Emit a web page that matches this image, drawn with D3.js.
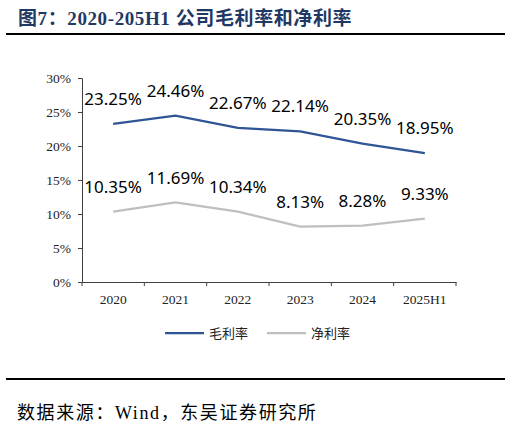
<!DOCTYPE html>
<html>
<head>
<meta charset="utf-8">
<script src="https://cdn.jsdelivr.net/npm/d3@7"></script>
<style>
  body { margin: 0; background: #fff; }
  svg { display: block; }
</style>
</head>
<body>
<svg id="chart" width="511" height="427"></svg>
<script>
// 数据
var years = ["2020", "2021", "2022", "2023", "2024", "2025H1"];
var grossMargin = [23.25, 24.46, 22.67, 22.14, 20.35, 18.95];
var netMargin = [10.35, 11.69, 10.34, 8.13, 8.28, 9.33];
var yTicks = [0, 5, 10, 15, 20, 25, 30];
var seriesNames = ["毛利率", "净利率"];
var seriesColors = ["#2f5597", "#bfbfbf"];

var svg = d3.select("#chart");

var x = d3.scaleBand()
    .domain(years)
    .range([82, 456]);

var y = d3.scaleLinear()
    .domain([0, 30])
    .range([282, 78]);

// 标题
svg.append("text")
    .attr("x", 18)
    .attr("y", 25)
    .attr("fill", "#1f3864")
    .attr("font-family", "'Liberation Serif', 'Noto Sans CJK SC', serif")
    .attr("font-weight", "bold")
    .attr("font-size", 19)
    .attr("letter-spacing", 0.6)
    .text("图7：2020-205H1 公司毛利率和净利率");

svg.append("line")
    .attr("x1", 6).attr("x2", 505)
    .attr("y1", 34).attr("y2", 34)
    .attr("stroke", "#000")
    .attr("stroke-width", 2);

// y 轴
var yAxis = svg.append("g")
    .attr("transform", "translate(82,0)")
    .call(d3.axisLeft(y).tickValues(yTicks).tickSize(4).tickPadding(7)
        .tickFormat(function(d) { return d + "%"; }));

// x 轴
var xAxis = svg.append("g")
    .attr("transform", "translate(0,282)")
    .call(d3.axisBottom(x).tickSize(0).tickPadding(12));

// 类目分隔刻度
xAxis.selectAll(".sep")
    .data(x.domain().map(function(d) { return x(d); }).concat([x.range()[1]]))
    .enter().append("line")
    .attr("class", "sep")
    .attr("x1", function(d) { return d; })
    .attr("x2", function(d) { return d; })
    .attr("y1", 0).attr("y2", 4)
    .attr("stroke", "#404040");

[yAxis, xAxis].forEach(function(g) {
    g.attr("font-size", 13.5);
    g.select(".domain").attr("stroke", "#404040");
    g.selectAll(".tick line").attr("stroke", "#404040");
    g.selectAll(".tick text")
        .attr("fill", "#222")
        .attr("font-family", "'Liberation Serif', serif")
        .attr("font-size", 13.5);
});

// 折线
var line = d3.line()
    .x(function(d, i) { return x(years[i]) + x.bandwidth() / 2; })
    .y(function(d) { return y(d); });

[grossMargin, netMargin].forEach(function(values, k) {
    svg.append("path")
        .datum(values)
        .attr("fill", "none")
        .attr("stroke", seriesColors[k])
        .attr("stroke-width", 2.25)
        .attr("d", line);

    svg.selectAll(".lbl" + k)
        .data(values)
        .enter().append("text")
        .attr("class", "lbl" + k)
        .attr("x", function(d, i) { return x(years[i]) + x.bandwidth() / 2; })
        .attr("y", function(d) { return y(d) - 19; })
        .attr("text-anchor", "middle")
        .attr("fill", "#000")
        .attr("font-family", "'Noto Sans', sans-serif")
        .attr("font-size", 17)
        .text(function(d) { return d.toFixed(2) + "%"; });
});

// 图例
var legendX = [165, 267];
var legend = svg.selectAll(".legend")
    .data(seriesNames)
    .enter().append("g")
    .attr("class", "legend")
    .attr("transform", function(d, i) { return "translate(" + legendX[i] + ",333)"; });

legend.append("line")
    .attr("x1", 0).attr("x2", 39)
    .attr("stroke", function(d, i) { return seriesColors[i]; })
    .attr("stroke-width", 2.25);

legend.append("text")
    .attr("x", 44)
    .attr("dy", "0.35em")
    .attr("fill", "#222")
    .attr("font-family", "'Noto Sans CJK SC', sans-serif")
    .attr("font-size", 13)
    .text(function(d) { return d; });

// 底部
svg.append("line")
    .attr("x1", 6).attr("x2", 505)
    .attr("y1", 379).attr("y2", 379)
    .attr("stroke", "#000")
    .attr("stroke-width", 2);

svg.append("text")
    .attr("x", 17)
    .attr("y", 419)
    .attr("fill", "#000")
    .attr("font-family", "'Liberation Serif', 'Noto Sans CJK SC', serif")
    .attr("font-size", 18)
    .attr("letter-spacing", 1.6)
    .text("数据来源：Wind，东吴证券研究所");
</script>
</body>
</html>
